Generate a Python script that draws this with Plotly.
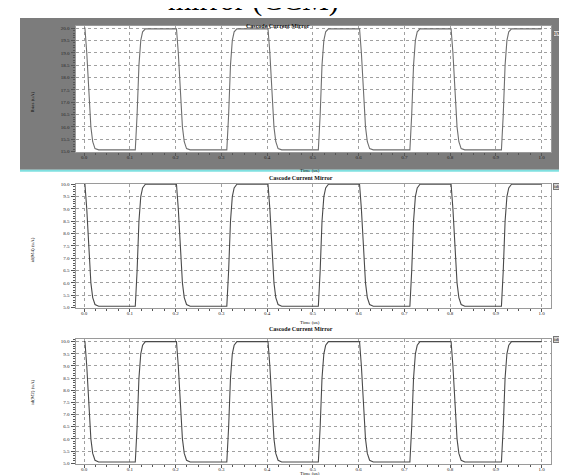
import plotly.graph_objects as go

W, H = 567, 475

# ---- data ----
time_us = [0.0, 0.002, 0.006, 0.011, 0.015, 0.019, 0.024, 0.032,
           0.112, 0.116, 0.120, 0.124, 0.128, 0.134,
           0.200, 0.202, 0.206, 0.211, 0.215, 0.219, 0.224, 0.232,
           0.312, 0.316, 0.320, 0.324, 0.328, 0.334,
           0.400, 0.402, 0.406, 0.411, 0.415, 0.419, 0.424, 0.432,
           0.512, 0.516, 0.520, 0.524, 0.528, 0.534,
           0.600, 0.602, 0.606, 0.611, 0.615, 0.619, 0.624, 0.632,
           0.712, 0.716, 0.720, 0.724, 0.728, 0.734,
           0.800, 0.802, 0.806, 0.811, 0.815, 0.819, 0.824, 0.832,
           0.912, 0.916, 0.920, 0.924, 0.928, 0.934,
           1.000]

ibias_uA = [20.0, 20.0, 19.0, 17.0, 16.0, 15.4, 15.12, 15.07,
            15.07, 16.5, 18.5, 19.5, 19.85, 19.97,
            19.97, 19.97, 19.0, 17.0, 16.0, 15.4, 15.12, 15.07,
            15.07, 16.5, 18.5, 19.5, 19.85, 19.97,
            19.97, 19.97, 19.0, 17.0, 16.0, 15.4, 15.12, 15.07,
            15.07, 16.5, 18.5, 19.5, 19.85, 19.97,
            19.97, 19.97, 19.0, 17.0, 16.0, 15.4, 15.12, 15.07,
            15.07, 16.5, 18.5, 19.5, 19.85, 19.97,
            19.97, 19.97, 19.0, 17.0, 16.0, 15.4, 15.12, 15.07,
            15.07, 16.5, 18.5, 19.5, 19.85, 19.97,
            19.97]

id_m4_uA = [10.0, 10.0, 9.0, 7.0, 6.0, 5.4, 5.12, 5.05,
            5.05, 6.5, 8.5, 9.5, 9.85, 10.0,
            10.0, 10.0, 9.0, 7.0, 6.0, 5.4, 5.12, 5.05,
            5.05, 6.5, 8.5, 9.5, 9.85, 10.0,
            10.0, 10.0, 9.0, 7.0, 6.0, 5.4, 5.12, 5.05,
            5.05, 6.5, 8.5, 9.5, 9.85, 10.0,
            10.0, 10.0, 9.0, 7.0, 6.0, 5.4, 5.12, 5.05,
            5.05, 6.5, 8.5, 9.5, 9.85, 10.0,
            10.0, 10.0, 9.0, 7.0, 6.0, 5.4, 5.12, 5.05,
            5.05, 6.5, 8.5, 9.5, 9.85, 10.0,
            10.0]

id_m2_uA = [10.0, 10.0, 9.0, 7.0, 6.0, 5.4, 5.12, 5.05,
            5.05, 6.5, 8.5, 9.5, 9.85, 10.0,
            10.0, 10.0, 9.0, 7.0, 6.0, 5.4, 5.12, 5.05,
            5.05, 6.5, 8.5, 9.5, 9.85, 10.0,
            10.0, 10.0, 9.0, 7.0, 6.0, 5.4, 5.12, 5.05,
            5.05, 6.5, 8.5, 9.5, 9.85, 10.0,
            10.0, 10.0, 9.0, 7.0, 6.0, 5.4, 5.12, 5.05,
            5.05, 6.5, 8.5, 9.5, 9.85, 10.0,
            10.0, 10.0, 9.0, 7.0, 6.0, 5.4, 5.12, 5.05,
            5.05, 6.5, 8.5, 9.5, 9.85, 10.0,
            10.0]

panel_titles = ["Cascode Current Mirror"] * 3
y_titles = ["Ibias (uA)", "id(M4) (uA)", "id(M2) (uA)"]
legend_names = ["I(M6)", "id(M4)", "id(M2)"]
x_title = "Time (us)"
main_title = "mirror (CCM)"

series = [ibias_uA, id_m4_uA, id_m2_uA]
y_ranges = [[14.98, 20.09], [4.98, 10.03], [4.98, 10.1]]
y_ticks = [[15.0, 15.5, 16.0, 16.5, 17.0, 17.5, 18.0, 18.5, 19.0, 19.5, 20.0],
           [5.0, 5.5, 6.0, 6.5, 7.0, 7.5, 8.0, 8.5, 9.0, 9.5, 10.0],
           [5.0, 5.5, 6.0, 6.5, 7.0, 7.5, 8.0, 8.5, 9.0, 9.5, 10.0]]
x_ticks = [0.0, 0.1, 0.2, 0.3, 0.4, 0.5, 0.6, 0.7, 0.8, 0.9, 1.0]

# ---- layout in pixels ----
def px(x):
    return x / W

def py(y):
    return 1 - y / H

plot_left, plot_right = 67.5, 543
panel_px = [(16, 143.3), (175, 300.5), (332, 457.5)]
title_pos = [(270, 11), (293, 169), (293, 327)]
xtitle_y = [157, 315, 471.5]
ytitle_y = [80, 242, 400]
legend_y = [20, 178, 336]
line_colors = ["#6e6e6e", "#4a4a4a", "#4a4a4a"]

FONT = "Liberation Serif"
fig = go.Figure()
shapes = []
annotations = []

# gray background of the first panel and cyan separator
shapes.append(dict(type="rect", xref="paper", yref="paper", x0=px(12), x1=1,
                   y0=py(161), y1=py(8), fillcolor="#7c7c7c", line_width=0, layer="below"))
shapes.append(dict(type="line", xref="paper", yref="paper", x0=px(12), x1=1,
                   y0=py(162), y1=py(162), line=dict(color="#7fe0e0", width=2), layer="below"))

for i in range(3):
    top, bot = panel_px[i]
    xa = "xaxis" if i == 0 else f"xaxis{i+1}"
    ya = "yaxis" if i == 0 else f"yaxis{i+1}"
    xr = "x" if i == 0 else f"x{i+1}"
    yr = "y" if i == 0 else f"y{i+1}"
    # white plot area
    shapes.append(dict(type="rect", xref="paper", yref="paper", x0=px(plot_left), x1=px(plot_right),
                       y0=py(bot), y1=py(top), fillcolor="white", line_width=0, layer="below"))
    fig.add_trace(go.Scatter(x=time_us, y=series[i], mode="lines", xaxis=xr, yaxis=yr,
                             line=dict(color=line_colors[i], width=1.1), showlegend=False,
                             hoverinfo="skip"))
    fig.layout[xa] = dict(domain=[px(plot_left), px(plot_right)], anchor=yr,
                          range=[-0.0186, 1.0203], tickvals=x_ticks,
                          ticktext=[f"{v:.1f}" for v in x_ticks],
                          showgrid=True, gridcolor="#a0a0a0", griddash="dot", gridwidth=1,
                          showline=True, linecolor="#9a9a9a", linewidth=1, mirror=True,
                          ticks="outside", ticklen=3, tickcolor="#555", ticklabelstandoff=-3,
                          minor=dict(dtick=0.025, tick0=0, ticks="outside", ticklen=2,
                                     tickcolor="#555", showgrid=False),
                          tickfont=dict(family=FONT, size=5, color="#222"), zeroline=False)
    fig.layout[ya] = dict(domain=[py(bot), py(top)], anchor=xr,
                          range=y_ranges[i], tickvals=y_ticks[i],
                          ticktext=[f"{v:.1f}" for v in y_ticks[i]],
                          showgrid=True, gridcolor="#a0a0a0", griddash="dot", gridwidth=1,
                          showline=True, linecolor="#9a9a9a", linewidth=1, mirror=True,
                          ticks="outside", ticklen=4, tickcolor="#555",
                          minor=dict(dtick=0.1, tick0=0, ticks="outside", ticklen=2,
                                     tickcolor="#555", showgrid=False),
                          tickfont=dict(family=FONT, size=5, color="#222"), zeroline=False)
    tx, ty = title_pos[i]
    annotations.append(dict(text="<b>" + panel_titles[i] + "</b>", x=px(tx), y=py(ty),
                            xref="paper", yref="paper", showarrow=False,
                            font=dict(family=FONT, size=6, color="#111")))
    annotations.append(dict(text=x_title, x=px(302), y=py(xtitle_y[i]),
                            xref="paper", yref="paper", showarrow=False,
                            font=dict(family=FONT, size=5, color="#111")))
    annotations.append(dict(text=y_titles[i], x=px(20), y=py(ytitle_y[i]), textangle=-90,
                            xref="paper", yref="paper", showarrow=False,
                            font=dict(family=FONT, size=5, color="#111")))
    annotations.append(dict(text=legend_names[i], x=px(545), y=py(legend_y[i]),
                            xanchor="left", xref="paper", yref="paper", showarrow=False,
                            bgcolor="#d8d8d8", bordercolor="#777", borderwidth=1, borderpad=0,
                            font=dict(family=FONT, size=5, color="#111")))

annotations.append(dict(text=main_title, x=px(245), y=py(9), yanchor="bottom",
                        xref="paper", yref="paper", showarrow=False,
                        font=dict(family=FONT, size=30, color="black")))

fig.update_layout(width=W, height=H, margin=dict(l=0, r=0, t=0, b=0),
                  paper_bgcolor="white", plot_bgcolor="rgba(0,0,0,0)",
                  shapes=shapes, annotations=annotations, showlegend=False)

fig.write_html("out.html")
